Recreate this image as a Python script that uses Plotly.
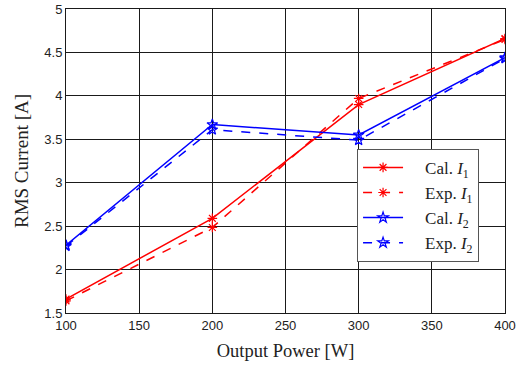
import plotly.graph_objects as go

power = [100, 200, 300, 400]
cal_i1 = [1.66, 2.59, 3.90, 4.66]
exp_i1 = [1.64, 2.485, 3.97, 4.65]
cal_i2 = [2.28, 3.67, 3.55, 4.44]
exp_i2 = [2.27, 3.61, 3.49, 4.43]

pad = "&nbsp;" * 4
series = [
    (pad + "Cal. <i>I</i><sub>1</sub>", cal_i1, "#ff0000", "solid", "asterisk-open"),
    (pad + "Exp. <i>I</i><sub>1</sub>", exp_i1, "#ff0000", "dash", "asterisk-open"),
    (pad + "Cal. <i>I</i><sub>2</sub>", cal_i2, "#0000ff", "solid", "star-open"),
    (pad + "Exp. <i>I</i><sub>2</sub>", exp_i2, "#0000ff", "dash", "star-open"),
]

fig = go.Figure()
for name, vals, color, dash, sym in series:
    fig.add_trace(go.Scatter(
        x=power, y=vals, name=name, mode="lines+markers",
        line=dict(color=color, width=1.5, dash=dash),
        marker=dict(symbol=sym, size=8, color=color, line=dict(color=color, width=1.2)),
    ))

axis_common = dict(
    showgrid=True, gridcolor="#1a1a1a", gridwidth=1,
    showline=True, linecolor="#1a1a1a", linewidth=1, mirror=True,
    ticks="inside", ticklen=4, tickcolor="#1a1a1a",
    zeroline=False,
    tickfont=dict(family="Liberation Sans, Arial", size=13, color="#222"),
)

fig.update_layout(
    width=527, height=371,
    margin=dict(l=66, r=22, t=9, b=58, autoexpand=False),
    paper_bgcolor="white", plot_bgcolor="white",
    xaxis=dict(range=[100, 400], dtick=50,
               title=dict(text="Output Power [W]", standoff=12,
                          font=dict(family="Liberation Serif, Times New Roman", size=18.5, color="#222")),
               **axis_common),
    yaxis=dict(range=[1.5, 5], dtick=0.5,
               title=dict(text="RMS Current [A]", standoff=10,
                          font=dict(family="Liberation Serif, Times New Roman", size=19, color="#222")),
               **axis_common),
    legend=dict(x=0.663, y=0.54, xanchor="left", yanchor="top",
                bgcolor="white", bordercolor="#555", borderwidth=1,
                font=dict(family="Liberation Serif, Times New Roman", size=17, color="#222"),
                tracegroupgap=0, itemwidth=40),
    showlegend=True,
)

fig.write_html("out.html", config={"displayModeBar": False},
               post_script="document.body.style.margin='0';document.body.style.overflow='hidden';")
